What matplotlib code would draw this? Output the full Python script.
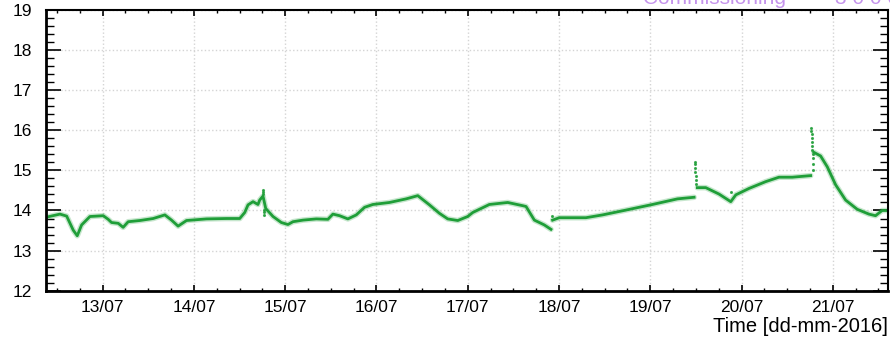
import numpy as np
import pandas as pd
import matplotlib
matplotlib.use('Agg')
import matplotlib.pyplot as plt
import matplotlib.dates as mdates
from matplotlib.ticker import MultipleLocator

plt.rcParams['font.family'] = ['Liberation Sans', 'DejaVu Sans']

# temperature trace, day of July 2016 (fractional) vs value
day = [12.376, 12.533, 12.606, 12.678, 12.722, 12.770, 12.861,
       13.007, 13.061, 13.098, 13.171, 13.225, 13.280, 13.408, 13.554, 13.682, 13.755, 13.827, 13.919,
       14.138, 14.357, 14.502, 14.557, 14.593, 14.648, 14.702, 14.721, 14.757, 14.787, 14.867, 14.958,
       15.031, 15.085, 15.195, 15.341, 15.468, 15.523, 15.596, 15.687, 15.779, 15.870, 15.961,
       16.143, 16.326, 16.453, 16.581, 16.690, 16.781, 16.891,
       17.000, 17.055, 17.237, 17.438, 17.602, 17.639, 17.730, 17.839, 17.912,
       17.930, 18.003, 18.295, 18.477, 18.733, 19.024, 19.298, 19.480,
       19.516, 19.608, 19.753, 19.882, 19.937, 20.082, 20.265, 20.410, 20.556, 20.757,
       20.793, 20.866, 20.939, 21.031, 21.140, 21.267, 21.395, 21.468, 21.540, 21.595]
temp = [13.83, 13.91, 13.86, 13.51, 13.37, 13.64, 13.85,
        13.87, 13.78, 13.70, 13.68, 13.58, 13.72, 13.75, 13.80, 13.89, 13.76, 13.61, 13.75,
        13.79, 13.80, 13.80, 13.95, 14.14, 14.22, 14.15, 14.26, 14.36, 14.05, 13.85, 13.70,
        13.65, 13.72, 13.76, 13.79, 13.78, 13.91, 13.87, 13.79, 13.89, 14.08, 14.15,
        14.20, 14.29, 14.37, 14.14, 13.93, 13.79, 13.75,
        13.85, 13.95, 14.15, 14.20, 14.12, 14.10, 13.76, 13.64, 13.53,
        13.76, 13.82, 13.82, 13.89, 14.01, 14.15, 14.29, 14.33,
        14.57, 14.57, 14.41, 14.22, 14.39, 14.55, 14.72, 14.83, 14.83, 14.87,
        15.45, 15.36, 15.09, 14.64, 14.26, 14.03, 13.91, 13.87, 14.00, 14.00]
# data gaps (no line drawn across these)
breaks = [17.92, 19.50, 20.78]

# isolated readings around the jumps
spike_day = [14.757, 14.760, 14.762, 14.765, 14.768, 14.770,
             19.488, 19.490, 19.492, 19.494, 19.496, 19.498, 19.500,
             20.764, 20.766, 20.768, 20.770, 20.772, 20.774, 20.776, 20.778, 20.780, 20.782, 20.784,
             17.925, 19.880]
spike_temp = [14.52, 14.46, 14.40, 14.02, 13.96, 13.90,
              15.22, 15.15, 15.05, 14.95, 14.85, 14.75, 14.65,
              16.05, 15.98, 15.90, 15.80, 15.70, 15.60, 15.50, 15.40, 15.30, 15.15, 15.00,
              13.87, 14.47]

start = pd.Timestamp('2016-07-01')


def to_time(d):
    return start + pd.to_timedelta(np.asarray(d) - 1, unit='D')


d = np.array(day, dtype=float)
v = np.array(temp, dtype=float)
idx = np.searchsorted(d, breaks)
d = np.insert(d, idx, breaks)
v = np.insert(v, idx, np.nan)

green = '#1f9e38'

fig = plt.figure(figsize=(8.9, 3.39), dpi=100)
ax = fig.add_axes([0.0513, 0.1425, 0.9465, 0.828])

t = to_time(d)
ax.plot(t, v, color=green, lw=4.0, alpha=0.25, solid_capstyle='round')
ax.plot(t, v, color=green, lw=2.0)
ax.plot(to_time(spike_day), spike_temp, ls='none', marker='.', ms=2.5, color=green, alpha=0.8)

ax.set_ylim(12, 19)
ax.set_xlim(to_time(12.376), to_time(21.605))

ax.yaxis.set_major_locator(MultipleLocator(1))
ax.yaxis.set_minor_locator(MultipleLocator(0.2))
ax.xaxis.set_major_locator(mdates.DayLocator())
ax.xaxis.set_minor_locator(mdates.HourLocator(byhour=[6, 12, 18]))
ax.xaxis.set_major_formatter(mdates.DateFormatter('%d/%m'))

ax.grid(True, which='major', color='#d4d4d4', ls=':', lw=1.0)

ax.tick_params(axis='y', which='major', direction='in', length=10.5, width=1.2,
               left=True, right=True, labelsize=12.5, pad=10)
ax.tick_params(axis='y', which='minor', direction='in', length=5.5, width=1.0,
               left=True, right=True)
ax.tick_params(axis='x', which='major', direction='in', length=4.5, width=1.2,
               bottom=True, top=True, labelsize=12.5, pad=7)
ax.tick_params(axis='x', which='minor', direction='in', length=2.5, width=1.0,
               bottom=True, top=True)
for lab in ax.get_xticklabels():
    lab.set_horizontalalignment('center')

for side in ['left', 'bottom']:
    ax.spines[side].set_linewidth(2.0)
for side in ['top', 'right']:
    ax.spines[side].set_linewidth(1.5)

fig.text(888 / 890, 1 - 326.7 / 339, 'Time [dd-mm-2016]', ha='right', va='center', fontsize=14.5)

# header partly cut off at the top edge
fig.text(643 / 890, 1 - 4.5 / 339, 'Commissioning', ha='left', va='baseline',
         fontsize=15, color='#c594ec')
fig.text(835 / 890, 1 - 4.5 / 339, '3 0 0 0', ha='left', va='baseline',
         fontsize=15, color='#c594ec')

fig.savefig('out.png', dpi=100)
